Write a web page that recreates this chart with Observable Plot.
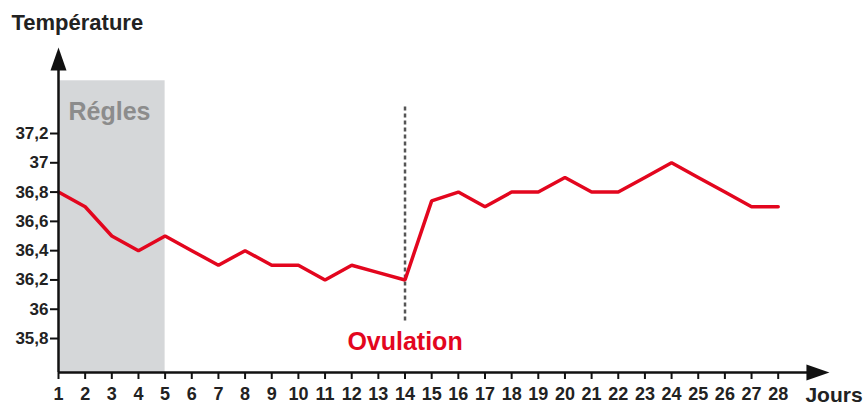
<!DOCTYPE html>
<html>
<head>
<meta charset="utf-8">
<script src="https://cdn.jsdelivr.net/npm/d3@7"></script>
<script src="https://cdn.jsdelivr.net/npm/@observablehq/plot@0.6"></script>
<style>
  html, body { margin: 0; padding: 0; background: #fff; }
  svg { display: block; }
</style>
</head>
<body>
<div id="chart"></div>
<script>
const days = [1,2,3,4,5,6,7,8,9,10,11,12,13,14,15,16,17,18,19,20,21,22,23,24,25,26,27,28];
const temps = [36.8,36.7,36.5,36.4,36.5,36.4,36.3,36.4,36.3,36.3,36.2,36.3,36.25,36.2,36.74,36.8,36.7,36.8,36.8,36.9,36.8,36.8,36.9,37.0,36.9,36.8,36.7,36.7];
const yTicks = [35.8, 36, 36.2, 36.4, 36.6, 36.8, 37, 37.2];
const yTitle = "Température";
const xTitle = "Jours";
const periodLabel = "Régles";
const periodStart = 1, periodEnd = 5;
const ovulationLabel = "Ovulation";
const ovulationDay = 14;

const data = days.map((d, i) => ({day: d, temp: temps[i]}));
const yMin = 35.568, yMax = 37.6;
const red = "#e3061e";
const font = "'Liberation Sans', Arial, Helvetica, sans-serif";

const arrowSymbol = {
  draw(ctx) {
    ctx.moveTo(0, -11.5);
    ctx.lineTo(8, 11.5);
    ctx.lineTo(-8, 11.5);
    ctx.closePath();
  }
};

const chart = Plot.plot({
  width: 865,
  height: 405,
  marginLeft: 58,
  marginRight: 87.3,
  marginTop: 74.43,
  marginBottom: 33,
  style: {fontFamily: font, background: "#fff"},
  x: {domain: [1, 28], axis: null},
  y: {domain: [yMin, yMax], axis: null},
  marks: [
    Plot.rect([{x1: periodStart, x2: periodEnd}], {x1: "x1", x2: "x2", y1: yMin, y2: 37.56, fill: "#d5d7d9"}),
    Plot.text([periodLabel], {x: periodStart, y: 37.35, text: d => d, dx: 10, textAnchor: "start", lineAnchor: "middle", fontSize: 25, fontWeight: "bold", fill: "#8c8c8c"}),
    Plot.ruleX([ovulationDay], {y1: 35.92, y2: 37.4, stroke: "#555", strokeWidth: 2.5, strokeDasharray: "4,3"}),
    Plot.line(data, {x: "day", y: "temp", stroke: red, strokeWidth: 3.5, strokeLinejoin: "miter"}),
    Plot.text([ovulationLabel], {x: ovulationDay, y: 35.773, text: d => d, textAnchor: "middle", lineAnchor: "middle", fontSize: 25, fontWeight: "bold", fill: red}),
    Plot.axisX({ticks: days, tickSize: 7, tickPadding: 8, strokeWidth: 2, stroke: "#111", fontSize: 18, fontWeight: "bold", fill: "#222", tickFormat: d => String(d)}),
    Plot.axisY({ticks: yTicks, tickSize: 8, tickPadding: 2, strokeWidth: 2, stroke: "#111", fontSize: 17, fontWeight: "bold", fill: "#222", tickFormat: d => String(d).replace(".", ",")}),
    Plot.ruleX([1], {y1: yMin, y2: 37.7, stroke: "#111", strokeWidth: 2.5}),
    Plot.ruleY([yMin], {x1: 1, x2: 29.3, stroke: "#111", strokeWidth: 2.5}),
    Plot.dot([{x: 1, y: 37.709}], {x: "x", y: "y", symbol: arrowSymbol, fill: "#111", r: 8}),
    Plot.dot([{x: 29.49, y: yMin}], {x: "x", y: "y", symbol: arrowSymbol, fill: "#111", r: 8, rotate: 90}),
    Plot.text([xTitle], {x: 29.02, y: 35.414, text: d => d, textAnchor: "start", lineAnchor: "middle", fontSize: 21, fontWeight: "bold", fill: "#222"}),
    Plot.text([yTitle], {x: 1, y: 37.958, dx: -47, text: d => d, textAnchor: "start", lineAnchor: "middle", fontSize: 22, fontWeight: "bold", fill: "#222"})
  ]
});
document.getElementById("chart").appendChild(chart);
</script>
</body>
</html>
